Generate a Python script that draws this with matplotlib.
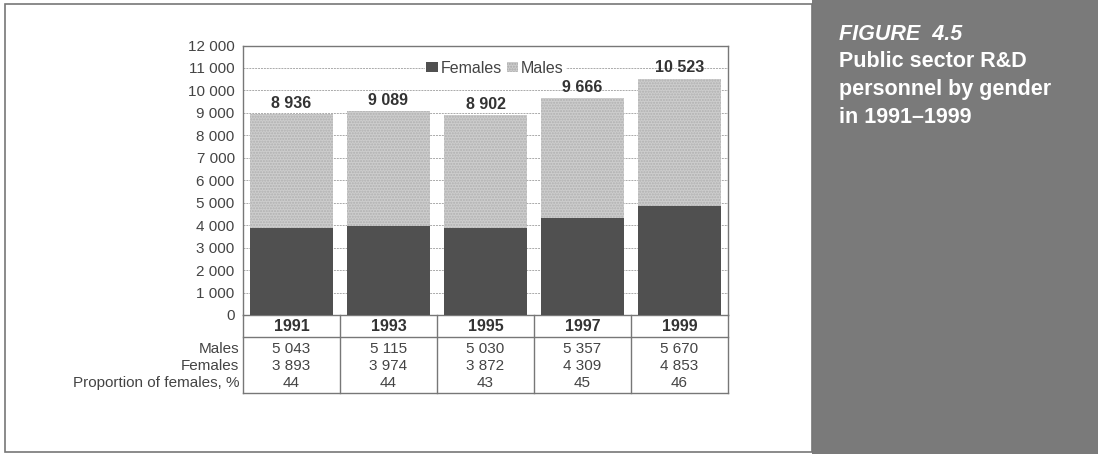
import matplotlib.pyplot as plt
from matplotlib.patches import Rectangle, Patch
from matplotlib.lines import Line2D
from matplotlib import font_manager

# data
years = ['1991', '1993', '1995', '1997', '1999']
males = [5043, 5115, 5030, 5357, 5670]
females = [3893, 3974, 3872, 4309, 4853]
totals = [8936, 9089, 8902, 9666, 10523]
share_females = [44, 44, 43, 45, 46]
yticks = [0, 1000, 2000, 3000, 4000, 5000, 6000, 7000, 8000, 9000, 10000, 11000, 12000]
row_labels = ['Males', 'Females', 'Proportion of females, %']


def fmt(v):
    return f'{v:,}'.replace(',', ' ')


names = {f.name for f in font_manager.fontManager.ttflist}
narrow = 'Liberation Sans Narrow' if 'Liberation Sans Narrow' in names else 'Liberation Sans'
plt.rcParams['font.family'] = [narrow, 'DejaVu Sans']
plt.rcParams['hatch.color'] = '#a8a8a8'
fs = 11

W, H = 1098, 454
fig = plt.figure(figsize=(W / 100, H / 100), dpi=100)

# grey side panel and outer frame
fig.patches.append(Rectangle((812 / W, 0), 1 - 812 / W, 1, transform=fig.transFigure,
                             facecolor='#7a7a7a', edgecolor='none', zorder=0))
fig.patches.append(Rectangle((5 / W, 2 / H), 807 / W, 448 / H, transform=fig.transFigure,
                             facecolor='none', edgecolor='#777777', lw=1.2, zorder=1))

title_lines = [('FIGURE  4.5', 40, 'italic'), ('Public sector R&D', 67, 'normal'),
               ('personnel by gender', 95, 'normal'), ('in 1991\u20131999', 123, 'normal')]
for txt, base, style in title_lines:
    fig.text(839 / W, 1 - base / H, txt, color='white', fontsize=15.5,
             fontweight='bold', fontstyle=style, va='baseline')

ax_l, ax_r, ax_t, ax_b = 243, 728, 45.5, 315
ax = fig.add_axes([ax_l / W, 1 - ax_b / H, (ax_r - ax_l) / W, (ax_b - ax_t) / H])

x = range(len(years))
ax.bar(x, females, width=0.86, color='#505050', zorder=3)
ax.bar(x, males, bottom=females, width=0.86, color='#cdcdcd', hatch='......',
       edgecolor='#b0b0b0', linewidth=0, zorder=3)

for i, t in enumerate(totals):
    ax.text(i, t + 150, fmt(t), ha='center', va='bottom', fontsize=fs + 0.5,
            fontweight='bold', color='#333333', zorder=4)

ax.set_xlim(-0.5, len(years) - 0.5)
ax.set_ylim(0, 12000)
ax.set_yticks(yticks)
ax.set_yticklabels([fmt(v) for v in yticks], fontsize=fs, color='#444444')
ax.set_xticks([])
ax.tick_params(axis='y', length=0, pad=6)
ax.grid(axis='y', color='#aaaaaa', lw=0.7, ls=(0, (2, 1)), zorder=1)
for s in ax.spines.values():
    s.set_color('#777777')
    s.set_linewidth(1)

leg = ax.legend(handles=[Patch(facecolor='#505050', label='Females'),
                         Patch(facecolor='#cdcdcd', hatch='......', label='Males')],
                loc='center', bbox_to_anchor=(0.52, 0.916), ncol=2, frameon=True,
                fontsize=fs + 0.5, handlelength=0.7, handleheight=0.6, handletextpad=0.2,
                columnspacing=0.3, borderpad=0.1, fancybox=False)
leg.get_frame().set_edgecolor('none')
leg.get_frame().set_facecolor('white')
leg.get_frame().set_alpha(1)
for t in leg.get_texts():
    t.set_color('#444444')

# data table under the bars
ph = ax_b - ax_t
def ay(px):
    return (ax_b - px) / ph

tr = ax.get_xaxis_transform()
line_kw = dict(color='#777777', lw=1, transform=ax.transAxes, clip_on=False)
ax.add_line(Line2D([0, 0], [0, ay(393)], **line_kw))
ax.add_line(Line2D([1, 1], [0, ay(393)], **line_kw))
ax.add_line(Line2D([0, 1], [ay(393), ay(393)], **line_kw))
ax.add_line(Line2D([0, 1], [ay(337), ay(337)], **line_kw))
for i in range(1, len(years)):
    ax.add_line(Line2D([i - 0.5, i - 0.5], [0, ay(393)], color='#777777', lw=1,
                       transform=tr, clip_on=False))

for i, yr in enumerate(years):
    ax.text(i, ay(326.5), yr, transform=tr, ha='center', va='center', fontsize=fs + 0.5,
            fontweight='bold', color='#333333')
    ax.text(i, ay(349), fmt(males[i]), transform=tr, ha='center', va='center',
            fontsize=fs, color='#444444')
    ax.text(i, ay(366), fmt(females[i]), transform=tr, ha='center', va='center',
            fontsize=fs, color='#444444')
    ax.text(i, ay(383), str(share_females[i]), transform=tr, ha='center', va='center',
            fontsize=fs, color='#444444')

for lbl, py in zip(row_labels, [349, 366, 383]):
    ax.text(-0.008, ay(py), lbl, transform=ax.transAxes, ha='right', va='center',
            fontsize=fs, color='#444444')

fig.savefig('out.png', dpi=100)
